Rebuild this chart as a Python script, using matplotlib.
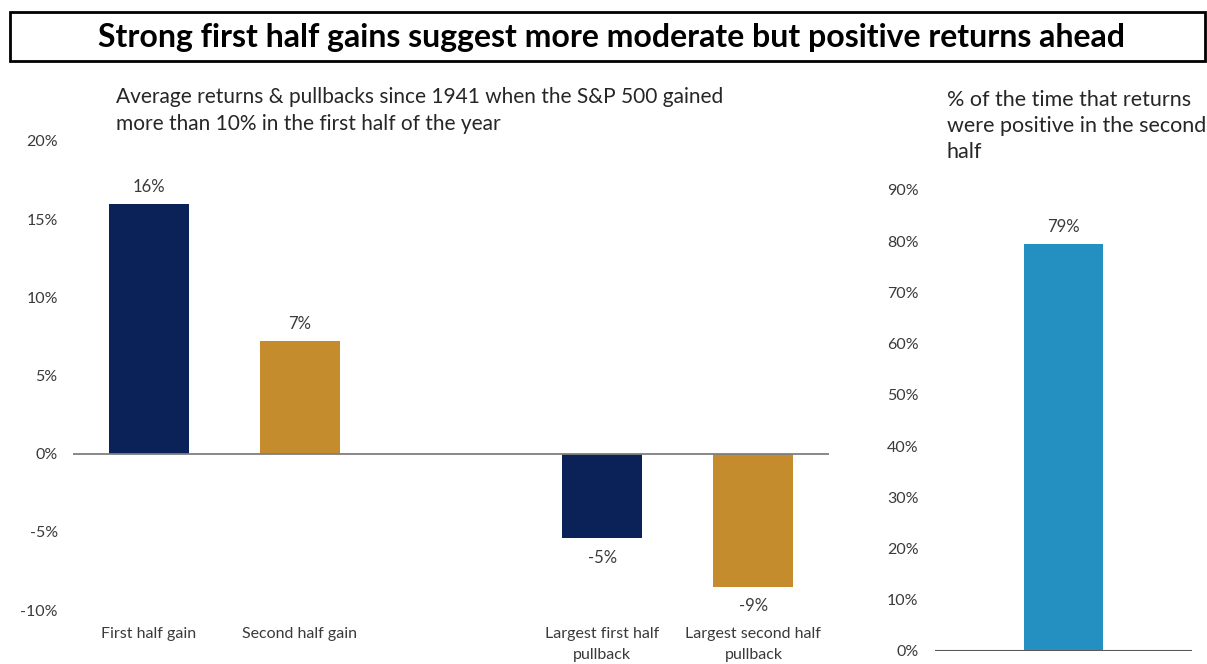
import matplotlib
matplotlib.use("Agg")
import matplotlib.pyplot as plt
from matplotlib.patches import Rectangle

plt.rcParams['font.family'] = ['Lato', 'DejaVu Sans']

# ---- data ----
title = "Strong first half gains suggest more moderate but positive returns ahead"
left_subtitle = "Average returns & pullbacks since 1941 when the S&P 500 gained\nmore than 10% in the first half of the year"
right_subtitle = "% of the time that returns\nwere positive in the second\nhalf"

left_categories = ["First half gain", "Second half gain", "",
                   "Largest first half\npullback", "Largest second half\npullback"]
left_values = [16.0, 7.2, None, -5.4, -8.5]
left_labels = ["16%", "7%", "", "-5%", "-9%"]
left_yticks = [-10, -5, 0, 5, 10, 15, 20]

right_values = [79.5]
right_labels = ["79%"]
right_yticks = [0, 10, 20, 30, 40, 50, 60, 70, 80, 90]

NAVY = "#0B2259"
GOLD = "#C58C2E"
BLUE = "#2490C2"
left_colors = [NAVY, GOLD, None, NAVY, GOLD]
TXT = "#3a3a3a"
AX = "#7f7f7f"

W, H = 1207, 664
fig = plt.figure(figsize=(W / 100, H / 100), dpi=100)

def fx(px):
    return px / W

def fy(py):
    return 1 - py / H

# title box
fig.patches.append(Rectangle((fx(10), fy(61)), fx(1205) - fx(10), fy(12) - fy(61),
                             transform=fig.transFigure, fill=False,
                             edgecolor="black", linewidth=2))
fig.text(fx(612), fy(38), title, ha="center", va="center",
         fontsize=23, fontweight="bold", color="black")

# ---- left chart ----
axL = fig.add_axes([fx(73), fy(610), fx(829) - fx(73), fy(141) - fy(610)])
xs = [i for i, v in enumerate(left_values) if v is not None]
vals = [left_values[i] for i in xs]
cols = [left_colors[i] for i in xs]
bars = axL.bar(xs, vals, width=0.53, color=cols, zorder=2)
for i, b in zip(xs, bars):
    v = left_values[i]
    off = 12 if v >= 0 else -14
    axL.annotate(left_labels[i], (i, v), xytext=(0, off), textcoords="offset points",
                 ha="center", va="center", fontsize=12, color=TXT)
axL.axhline(0, color=AX, linewidth=1.3, zorder=3)
axL.set_xlim(-0.5, 4.5)
axL.set_ylim(-10, 20)
axL.set_yticks(left_yticks)
axL.set_yticklabels([f"{t}%" for t in left_yticks], fontsize=11.5, color=TXT)
axL.set_xticks(xs)
axL.set_xticklabels([left_categories[i] for i in xs], fontsize=11.5, color=TXT,
                    linespacing=1.65)
axL.tick_params(axis="both", length=0)
axL.tick_params(axis="x", pad=12)
axL.tick_params(axis="y", pad=11)
for s in axL.spines.values():
    s.set_visible(False)
fig.text(fx(116), fy(87), left_subtitle, ha="left", va="top", fontsize=15,
         color="#262626", linespacing=1.42)

# ---- right chart ----
axR = fig.add_axes([fx(935), fy(651), fx(1192) - fx(935), fy(190) - fy(651)])
rb = axR.bar([0], right_values, width=0.31, color=BLUE, zorder=2)
axR.annotate(right_labels[0], (0, right_values[0]), xytext=(0, 12),
             textcoords="offset points", ha="center", va="center",
             fontsize=12, color=TXT)
axR.axhline(0, color="#595959", linewidth=1.5, zorder=3)
axR.set_xlim(-0.5, 0.5)
axR.set_ylim(0, 90)
axR.set_yticks(right_yticks)
axR.set_yticklabels([f"{t}%" for t in right_yticks], fontsize=11.5, color=TXT)
axR.set_xticks([])
axR.tick_params(axis="both", length=0)
axR.tick_params(axis="y", pad=12)
for s in axR.spines.values():
    s.set_visible(False)
fig.text(fx(947), fy(90), right_subtitle, ha="left", va="top", fontsize=15.5,
         color="#262626", linespacing=1.36)

fig.savefig("out.png", dpi=100)
